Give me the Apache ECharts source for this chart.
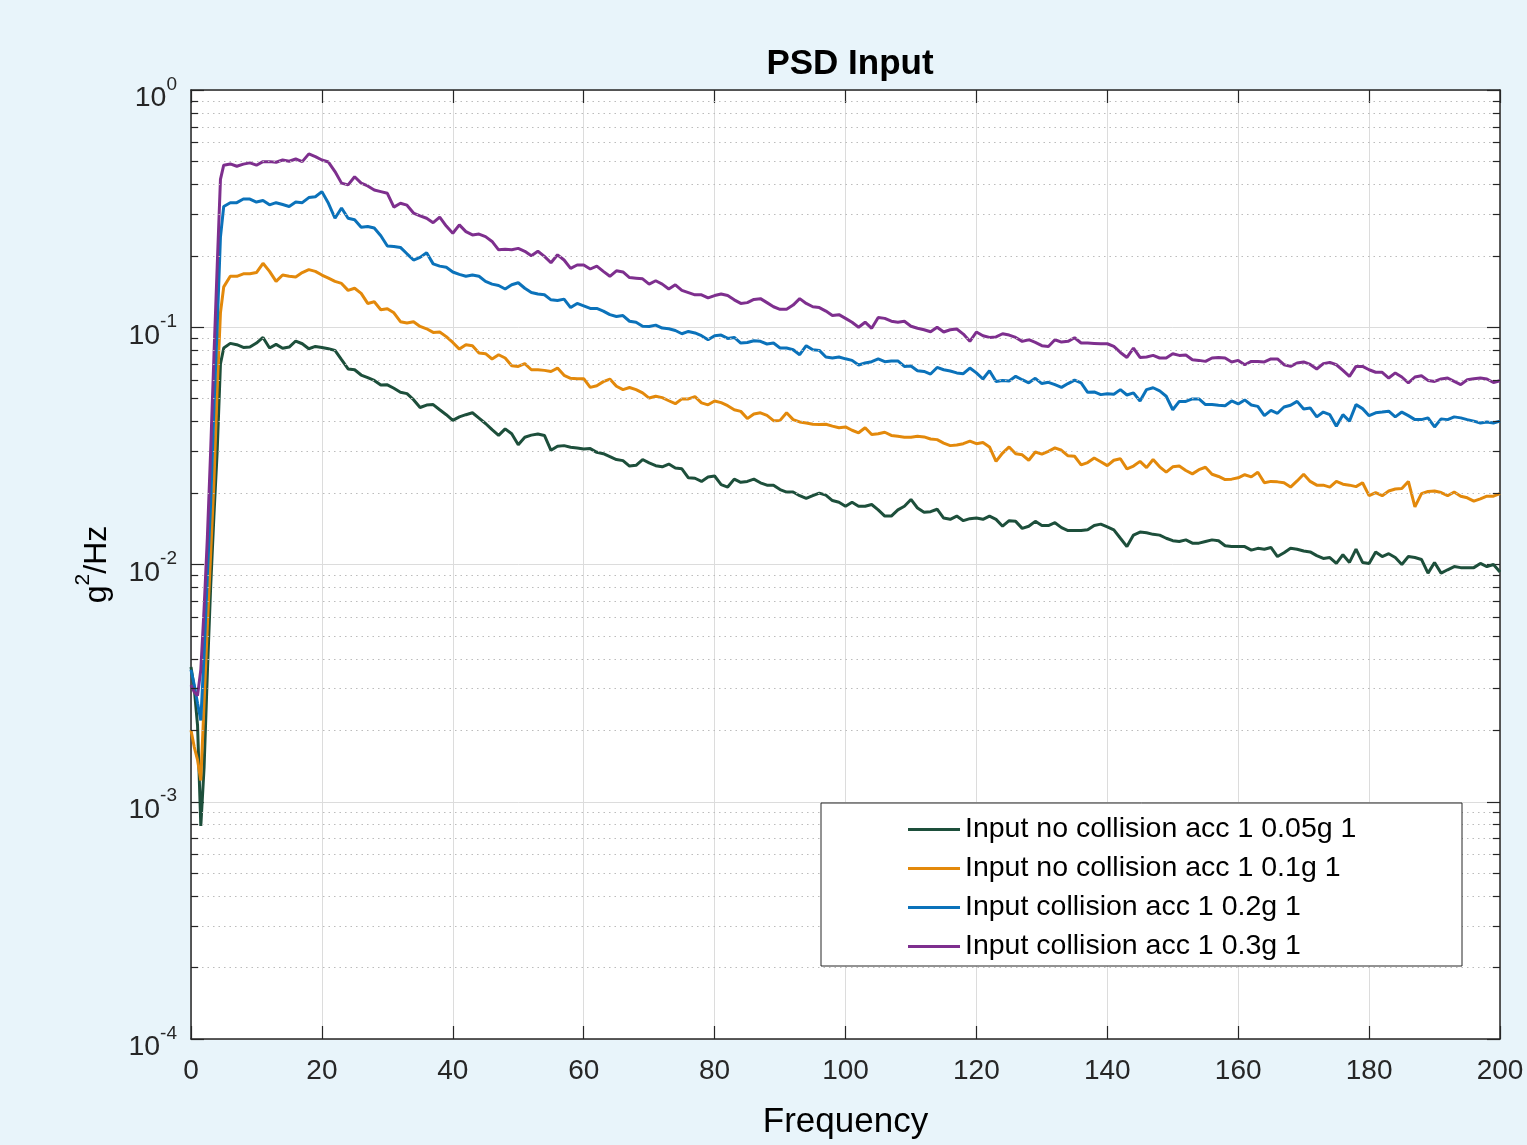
<!DOCTYPE html>
<html>
<head>
<meta charset="utf-8">
<script src="https://cdn.jsdelivr.net/npm/echarts@6/dist/echarts.min.js"></script>
<style>
html,body{margin:0;padding:0;background:#E8F4FA;}
#c{width:1527px;height:1145px;}
</style>
</head>
<body>
<div id="c"></div>
<script>
// ---------------- DATA ----------------
const freq = [0,0.5,1,1.5,2,2.5,3,3.5,4,4.5,
5,6,7,8,9,10,11,12,13,14,15,16,17,18,19,20,
21,22,23,24,25,26,27,28,29,30,
31,32,33,34,35,36,37,38,39,40,
41,42,43,44,45,46,47,48,49,50,
51,52,53,54,55,56,57,58,59,60,
61,62,63,64,65,66,67,68,69,70,
71,72,73,74,75,76,77,78,79,80,
81,82,83,84,85,86,87,88,89,90,
91,92,93,94,95,96,97,98,99,100,
101,102,103,104,105,106,107,108,109,110,
111,112,113,114,115,116,117,118,119,120,
121,122,123,124,125,126,127,128,129,130,
131,132,133,134,135,136,137,138,139,140,
141,142,143,144,145,146,147,148,149,150,
151,152,153,154,155,156,157,158,159,160,
161,162,163,164,165,166,167,168,169,170,
171,172,173,174,175,176,177,178,179,180,
181,182,183,184,185,186,187,188,189,190,
191,192,193,194,195,196,197,198,199,200];

const seriesNames = [
  'Input no collision acc 1 0.05g 1',
  'Input no collision acc 1 0.1g 1',
  'Input collision acc 1 0.2g 1',
  'Input collision acc 1 0.3g 1'
];

const psd005 = [0.0037,0.0030,0.0021,0.00079,0.0014,0.0035,0.008,0.016,0.030,0.070,
0.0818,0.0855,0.0844,0.0822,0.0825,0.0858,0.0906,0.0818,0.0847,0.0815,0.0825,0.0875,0.0852,0.0812,0.0830,0.0822,
0.0812,0.0799,0.0730,0.0667,0.0662,0.0629,0.0613,0.0597,0.0571,0.0572,
0.0553,0.0532,0.0525,0.0495,0.0459,0.0470,0.0472,0.0449,0.0428,0.0405,
0.0419,0.0428,0.0436,0.0414,0.0393,0.0370,0.0350,0.0373,0.0356,0.0320,
0.0344,0.0351,0.0355,0.0350,0.0303,0.0315,0.0317,0.0312,0.0310,0.0307,
0.0308,0.0297,0.0293,0.0285,0.0277,0.0274,0.0260,0.0262,0.0277,0.0268,
0.0261,0.0258,0.0265,0.0255,0.0253,0.0232,0.0231,0.0224,0.0234,0.0236,
0.0217,0.0212,0.0229,0.0222,0.0224,0.0229,0.0221,0.0216,0.0216,0.0207,
0.0202,0.0202,0.0195,0.0190,0.0195,0.0200,0.0196,0.0186,0.0183,0.0176,
0.0183,0.0176,0.0176,0.0179,0.0170,0.0160,0.0160,0.0170,0.0176,0.0188,
0.0173,0.0166,0.0167,0.0171,0.0157,0.0155,0.0160,0.0153,0.0156,0.0157,
0.0155,0.0160,0.0155,0.0145,0.0153,0.0152,0.0142,0.0145,0.0152,0.0146,
0.0146,0.0150,0.0143,0.0139,0.0139,0.0139,0.0140,0.0146,0.0148,0.0144,
0.0140,0.0129,0.0119,0.0133,0.0137,0.0136,0.0134,0.0133,0.0129,0.0126,
0.0125,0.0127,0.0123,0.0123,0.0125,0.0127,0.0126,0.0120,0.0119,0.0119,
0.0119,0.0115,0.0117,0.0116,0.0118,0.0108,0.0112,0.0117,0.0116,0.0114,
0.0113,0.0109,0.0106,0.0107,0.0101,0.0110,0.0102,0.0116,0.0102,0.0101,
0.0113,0.0108,0.0111,0.0107,0.0100,0.0108,0.0107,0.0105,0.0092,0.0102,
0.0092,0.0095,0.0098,0.0097,0.0097,0.0097,0.0101,0.0098,0.0100,0.0093];

const psd010 = [0.0020,0.0017,0.0015,0.00123,0.0026,0.0055,0.011,0.022,0.055,0.115,
0.148,0.164,0.164,0.168,0.168,0.170,0.186,0.172,0.156,0.166,0.164,0.163,0.170,0.175,0.172,0.166,
0.161,0.156,0.153,0.143,0.146,0.139,0.126,0.128,0.1185,0.1197,
0.115,0.1055,0.1042,0.1055,0.1008,0.0985,0.0951,0.0955,0.0913,0.0863,
0.0809,0.0844,0.0836,0.0779,0.0774,0.0735,0.0766,0.0742,0.0688,0.0684,
0.0702,0.0662,0.0662,0.0658,0.0651,0.0673,0.0627,0.0609,0.0607,0.0607,
0.0558,0.0567,0.0590,0.0605,0.0564,0.0546,0.0557,0.0546,0.0529,0.0503,
0.0512,0.0505,0.0490,0.0476,0.0499,0.0499,0.0510,0.0480,0.0471,0.0489,
0.0481,0.0467,0.0449,0.0442,0.0412,0.0431,0.0436,0.0425,0.0404,0.0405,
0.0436,0.0408,0.0399,0.0395,0.0390,0.0389,0.0390,0.0383,0.0377,0.0380,
0.0368,0.0359,0.0377,0.0353,0.0356,0.0361,0.0350,0.0347,0.0344,0.0344,
0.0347,0.0345,0.0338,0.0336,0.0325,0.0317,0.0319,0.0323,0.0331,0.0323,
0.0327,0.0313,0.0272,0.0295,0.0313,0.0293,0.0290,0.0275,0.0298,0.0292,
0.0300,0.0310,0.0303,0.0287,0.0286,0.0263,0.0269,0.0281,0.0271,0.0261,
0.0275,0.0279,0.0253,0.0260,0.0272,0.0256,0.0277,0.0258,0.0245,0.0258,
0.0260,0.0249,0.0241,0.0251,0.0257,0.0240,0.0235,0.0228,0.0229,0.0232,
0.0239,0.0234,0.0245,0.0221,0.0224,0.0223,0.0221,0.0212,0.0225,0.0240,
0.0224,0.0216,0.0216,0.0212,0.0224,0.0218,0.0216,0.0213,0.0221,0.0195,
0.0201,0.0195,0.0204,0.0208,0.0209,0.0224,0.0175,0.0199,0.0203,0.0204,
0.0201,0.0195,0.0202,0.0194,0.0191,0.0185,0.0189,0.0194,0.0194,0.0199];

const psd020 = [0.0036,0.0031,0.0026,0.0022,0.0042,0.009,0.018,0.045,0.10,0.24,
0.323,0.335,0.335,0.347,0.347,0.337,0.342,0.328,0.335,0.329,0.323,0.337,0.335,0.352,0.355,0.373,
0.333,0.288,0.318,0.288,0.284,0.264,0.266,0.262,0.243,0.220,
0.219,0.217,0.204,0.192,0.197,0.206,0.185,0.181,0.179,0.171,
0.167,0.164,0.166,0.164,0.156,0.152,0.150,0.145,0.151,0.154,
0.146,0.140,0.138,0.137,0.1305,0.1296,0.1314,0.121,0.126,0.123,
0.120,0.120,0.117,0.113,0.111,0.112,0.106,0.105,0.101,0.1008,
0.1021,0.0992,0.0985,0.0969,0.0939,0.0960,0.0946,0.0921,0.0886,0.0921,
0.0927,0.0897,0.0906,0.0858,0.0863,0.0877,0.0872,0.0850,0.0858,0.0818,
0.0818,0.0804,0.0766,0.0836,0.0804,0.0799,0.0749,0.0742,0.0749,0.0736,
0.0725,0.0693,0.0707,0.0716,0.0735,0.0716,0.0721,0.0721,0.0684,0.0686,
0.0656,0.0651,0.0635,0.0677,0.0662,0.0654,0.0642,0.0637,0.0673,0.0642,
0.0605,0.0656,0.0591,0.0597,0.0594,0.0621,0.0601,0.0583,0.0609,0.0579,
0.0586,0.0573,0.0558,0.0579,0.0599,0.0583,0.0532,0.0534,0.0520,0.0525,
0.0522,0.0546,0.0518,0.0529,0.0489,0.0546,0.0556,0.0539,0.0512,0.0449,
0.0487,0.0487,0.0499,0.0499,0.0472,0.0472,0.0469,0.0467,0.0489,0.0475,
0.0494,0.0470,0.0464,0.0424,0.0446,0.0434,0.0461,0.0469,0.0487,0.0452,
0.0457,0.0419,0.0439,0.0428,0.0383,0.0428,0.0402,0.0472,0.0454,0.0424,
0.0436,0.0439,0.0443,0.0419,0.0439,0.0424,0.0408,0.0408,0.0415,0.0380,
0.0411,0.0408,0.0419,0.0415,0.0408,0.0402,0.0395,0.0399,0.0395,0.0402];

const psd030 = [0.0031,0.0029,0.0028,0.0036,0.0065,0.013,0.030,0.075,0.18,0.42,
0.482,0.488,0.477,0.487,0.493,0.482,0.499,0.499,0.496,0.507,0.501,0.512,0.499,0.538,0.524,0.507,
0.497,0.453,0.405,0.398,0.431,0.405,0.394,0.379,0.373,0.367,
0.321,0.333,0.327,0.303,0.295,0.288,0.276,0.291,0.267,0.249,
0.270,0.253,0.245,0.247,0.241,0.230,0.212,0.213,0.212,0.215,
0.209,0.200,0.209,0.199,0.187,0.202,0.192,0.177,0.183,0.183,
0.176,0.181,0.172,0.164,0.173,0.171,0.162,0.161,0.160,0.152,
0.157,0.152,0.145,0.151,0.143,0.140,0.137,0.137,0.133,0.136,
0.138,0.136,0.1305,0.126,0.127,0.131,0.132,0.127,0.122,0.119,
0.119,0.124,0.132,0.126,0.122,0.121,0.117,0.112,0.113,0.109,
0.105,0.100,0.105,0.099,0.110,0.109,0.106,0.105,0.106,0.101,
0.099,0.0976,0.0957,0.100,0.0955,0.0976,0.0983,0.0936,0.0872,0.0955,
0.0921,0.0906,0.0910,0.0939,0.0927,0.0906,0.0872,0.0886,0.0863,0.0836,
0.0830,0.0886,0.0866,0.0872,0.0903,0.0858,0.0858,0.0855,0.0852,0.0852,
0.0830,0.0783,0.0746,0.0817,0.0746,0.0749,0.0761,0.0742,0.0742,0.0773,
0.0761,0.0764,0.0730,0.0725,0.0718,0.0742,0.0746,0.0742,0.0714,0.0725,
0.0695,0.0718,0.0718,0.0714,0.0735,0.0735,0.0695,0.0684,0.0707,0.0714,
0.0697,0.0667,0.0702,0.0711,0.0695,0.0658,0.0621,0.0684,0.0684,0.0662,
0.0646,0.0646,0.0611,0.0642,0.0617,0.0583,0.0617,0.0625,0.0597,0.0591,
0.0605,0.0611,0.0591,0.0573,0.0601,0.0607,0.0611,0.0605,0.0585,0.0595];

const seriesColors = ['#1D4F3B', '#E3890B', '#0B72BA', '#7E2F8E'];

// axis ticks
const yMajorTicks = [0.0001, 0.001, 0.01, 0.1, 1];
const yTickExponents = ['-4', '-3', '-2', '-1', '0'];
const yMinorTicks = [
  0.0002,0.0003,0.0004,0.0005,0.0006,0.0007,0.0008,0.0009,
  0.002,0.003,0.004,0.005,0.006,0.007,0.008,0.009,
  0.02,0.03,0.04,0.05,0.06,0.07,0.08,0.09,
  0.2,0.3,0.4,0.5,0.6,0.7,0.8,0.9
];
const xMin = 0, xMax = 200;

// ---------------- CHART ----------------
const FONT = '"Liberation Sans", Arial, Helvetica, sans-serif';
const AX = '#262626';
const chart = echarts.init(document.getElementById('c'), null, {renderer: 'canvas'});

const lineSeries = seriesNames.map((name, k) => {
  const vals = [psd005, psd010, psd020, psd030][k];
  return {
    name: name,
    type: 'line',
    data: freq.map((f, i) => [f, vals[i]]),
    showSymbol: false,
    symbol: 'none',
    color: seriesColors[k],
    lineStyle: {color: seriesColors[k], width: 3},
    z: 3,
    animation: false
  };
});

const minorGrid = {
  name: '_minorGrid', type: 'line', data: [], silent: true, z: 1, animation: false,
  markLine: {
    silent: true, symbol: 'none', label: {show: false}, animation: false, precision: 10,
    lineStyle: {type: [1.5, 4], color: '#bcbcbc', width: 1.2},
    emphasis: {disabled: true},
    data: yMinorTicks.map(v => [{coord: [xMin, v]}, {coord: [xMax, v]}])
  }
};

const minorTickMarks = {
  name: '_minorTicks', type: 'line', data: [], silent: true, z: 4, animation: false,
  markLine: {
    silent: true, symbol: 'none', label: {show: false}, animation: false, precision: 10,
    lineStyle: {type: 'solid', color: AX, width: 1.2},
    emphasis: {disabled: true},
    data: yMinorTicks.flatMap(v => [
      [{coord: [xMin, v]}, {coord: [1.1, v]}],
      [{coord: [198.9, v]}, {coord: [xMax, v]}]
    ])
  }
};

const option = {
  backgroundColor: '#E8F4FA',
  animation: false,
  textStyle: {fontFamily: FONT},
  title: {
    text: 'PSD Input', left: 845, top: 42, textAlign: 'center',
    textStyle: {fontFamily: FONT, fontSize: 35, fontWeight: 'bold', color: '#000'}
  },
  grid: {left: 191, top: 90, right: 27, bottom: 105, backgroundColor: '#ffffff', show: true, borderWidth: 0},
  legend: {
    data: seriesNames, orient: 'vertical', left: 908, top: 810,
    icon: 'rect', itemWidth: 52, itemHeight: 3, itemGap: 0, padding: 0,
    textStyle: {fontFamily: FONT, fontSize: 28.5, lineHeight: 39, color: '#000'},
    selectedMode: false, z: 20
  },
  graphic: {
    elements: [{
      type: 'rect', z: 15, silent: true,
      shape: {x: 821, y: 803, width: 641, height: 163},
      style: {fill: '#ffffff', stroke: AX, lineWidth: 1}
    }]
  },
  xAxis: [{
    type: 'value', min: xMin, max: xMax, interval: 20, position: 'bottom',
    axisLine: {show: true, onZero: false, lineStyle: {color: AX, width: 1.5}},
    axisTick: {show: true, inside: true, length: 13, lineStyle: {color: AX, width: 1.2}},
    axisLabel: {fontFamily: FONT, fontSize: 28, color: AX, margin: 18},
    splitLine: {show: true, lineStyle: {type: 'solid', color: '#dcdcdc', width: 1}},
    name: 'Frequency', nameLocation: 'middle', nameGap: 66,
    nameTextStyle: {fontFamily: FONT, fontSize: 35, color: '#000'}
  }, {
    type: 'value', min: xMin, max: xMax, interval: 20, position: 'top',
    axisLine: {show: true, onZero: false, lineStyle: {color: AX, width: 1.5}},
    axisTick: {show: true, inside: true, length: 13, lineStyle: {color: AX, width: 1.2}},
    axisLabel: {show: false}, splitLine: {show: false}
  }],
  yAxis: [{
    type: 'log', logBase: 10, min: 0.0001, max: 1, position: 'left',
    axisLine: {show: true, onZero: false, lineStyle: {color: AX, width: 1.5}},
    axisTick: {show: true, inside: true, length: 13, lineStyle: {color: AX, width: 1.2}},
    splitLine: {show: true, lineStyle: {type: 'solid', color: '#dcdcdc', width: 1}},
    axisLabel: {
      margin: 14,
      padding: [8, 0, 0, 0],
      formatter: function (v) {
        const e = Math.round(Math.log10(v));
        const idx = yMajorTicks.findIndex(t => Math.abs(Math.log10(t) - e) < 1e-6);
        return '{b|10}{s|' + (idx >= 0 ? yTickExponents[idx] : e) + '}';
      },
      rich: {
        b: {fontFamily: FONT, fontSize: 28.5, color: AX, verticalAlign: 'bottom', lineHeight: 38},
        s: {fontFamily: FONT, fontSize: 19, color: AX, verticalAlign: 'top', lineHeight: 38}
      }
    },
    name: '{a|g}{s|2}{a|/Hz}', nameLocation: 'middle', nameGap: 78,
    nameTextStyle: {
      rich: {
        a: {fontFamily: FONT, fontSize: 32, color: '#000', verticalAlign: 'bottom', lineHeight: 40},
        s: {fontFamily: FONT, fontSize: 21, color: '#000', verticalAlign: 'top', lineHeight: 40}
      }
    }
  }, {
    type: 'log', logBase: 10, min: 0.0001, max: 1, position: 'right',
    axisLine: {show: true, onZero: false, lineStyle: {color: AX, width: 1.5}},
    axisTick: {show: true, inside: true, length: 13, lineStyle: {color: AX, width: 1.2}},
    axisLabel: {show: false}, splitLine: {show: false}
  }],
  series: [minorGrid, minorTickMarks].concat(lineSeries)
};
chart.setOption(option);
</script>
</body>
</html>
